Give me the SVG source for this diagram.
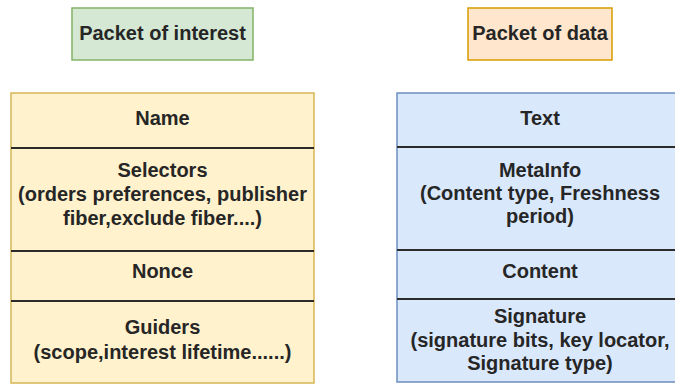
<svg xmlns="http://www.w3.org/2000/svg" width="675" height="385" viewBox="0 0 675 385">
<style>
text{font-family:"Liberation Sans",Arial,sans-serif;font-size:20px;font-weight:bold;fill:#262626;text-anchor:middle}
.div{stroke:#2b2b2b;stroke-width:2}
</style>
<rect width="675" height="385" fill="#ffffff"/>
<g id="title-interest">
<rect x="72" y="8" width="181" height="52" fill="#d5e8d4" stroke="#82b366" stroke-width="1.5"/>
<text x="162.5" y="40">Packet of interest</text>
</g>
<g id="title-data">
<rect x="468" y="8" width="144" height="52" fill="#ffe6cc" stroke="#d79b00" stroke-width="1.5"/>
<text x="540" y="40">Packet of data</text>
</g>
<g id="interest-table">
<rect x="11" y="93" width="303" height="290" fill="#fff2cc" stroke="#d6b656" stroke-width="1.5"/>
<line class="div" x1="11" y1="148" x2="314" y2="148"/>
<line class="div" x1="11" y1="251" x2="314" y2="251"/>
<line class="div" x1="11" y1="301" x2="314" y2="301"/>
<text x="162.5" y="125">Name</text>
<text x="162.5" y="177">Selectors</text>
<text x="162.5" y="201">(orders preferences, publisher</text>
<text x="162.5" y="225">fiber,exclude fiber....)</text>
<text x="162.5" y="278">Nonce</text>
<text x="162.5" y="334">Guiders</text>
<text x="162.5" y="359">(scope,interest lifetime......)</text>
</g>
<g id="data-table">
<rect x="397" y="93" width="286" height="289" fill="#dae8fc" stroke="#6c8ebf" stroke-width="1.5"/>
<line class="div" x1="397" y1="147" x2="683" y2="147"/>
<line class="div" x1="397" y1="250" x2="683" y2="250"/>
<line class="div" x1="397" y1="299" x2="683" y2="299"/>
<text x="540" y="125">Text</text>
<text x="540" y="177">MetaInfo</text>
<text x="540" y="200">(Content type, Freshness</text>
<text x="540" y="223">period)</text>
<text x="540" y="278">Content</text>
<text x="540" y="323">Signature</text>
<text x="540" y="347">(signature bits, key locator,</text>
<text x="540" y="370">Signature type)</text>
</g>
</svg>
